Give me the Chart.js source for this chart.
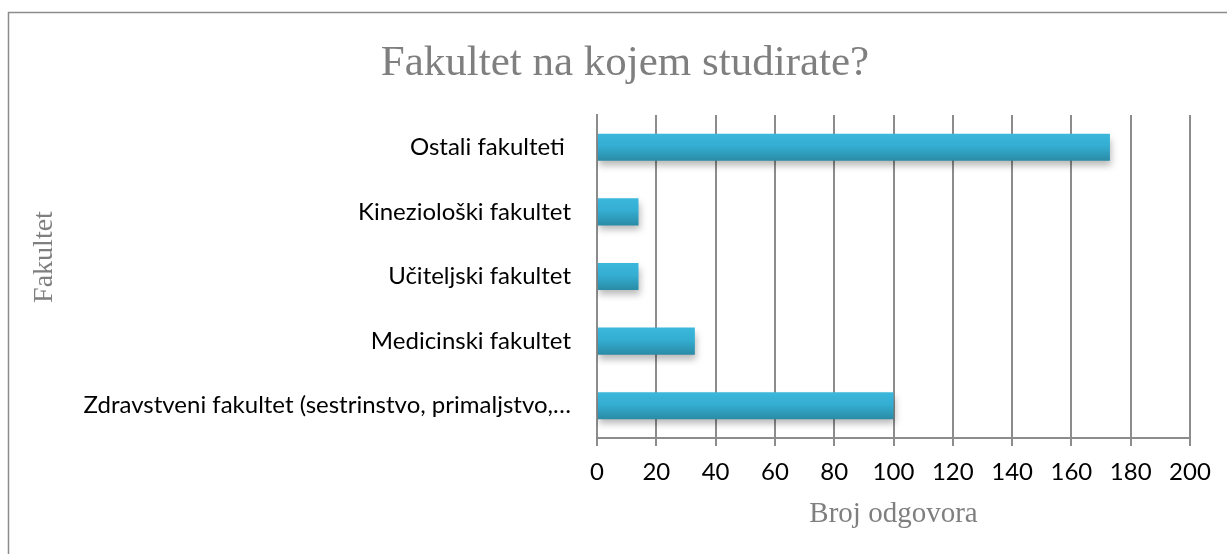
<!DOCTYPE html>
<html>
<head>
<meta charset="utf-8">
<script src="https://cdn.jsdelivr.net/npm/chart.js@4/dist/chart.umd.min.js"></script>
<style>
    html, body { margin: 0; padding: 0; background: #fff; }
    #wrap { position: relative; width: 1227px; height: 554px; }
</style>
</head>
<body>
<div id="wrap"><canvas id="chart" width="1227" height="554"></canvas></div>
<script>
const categories = [
    'Ostali fakulteti ',
    'Kineziološki fakultet',
    'Učiteljski fakultet',
    'Medicinski fakultet',
    'Zdravstveni fakultet (sestrinstvo, primaljstvo,…'
];
const responses = [173, 14, 14, 33, 100];
const xTicks = [0, 20, 40, 60, 80, 100, 120, 140, 160, 180, 200];

const chartTitle = 'Fakultet na kojem studirate?';
const xTitle = 'Broj odgovora';
const yTitle = 'Fakultet';

const GRID = '#8c8c8c';
const LABEL_FONT = 'Lato, "Noto Sans", sans-serif';
const SERIF = '"Liberation Serif", "DejaVu Serif", serif';

// frame round the chart (only left and top edges are in view)
const framePlugin = {
    id: 'frame',
    beforeDraw(chart) {
        const ctx = chart.ctx;
        ctx.save();
        ctx.strokeStyle = '#8c8c8c';
        ctx.lineWidth = 1.5;
        ctx.strokeRect(8.5, 12.5, 1400, 700);
        ctx.restore();
    }
};

// chart title and vertical axis title sit off-centre in the original, so they are drawn here
const titlesPlugin = {
    id: 'titles',
    afterDraw(chart) {
        const ctx = chart.ctx;
        ctx.save();
        ctx.fillStyle = '#7f7f7f';
        ctx.textAlign = 'center';
        ctx.textBaseline = 'alphabetic';
        ctx.font = `43px ${SERIF}`;
        ctx.fillText(chartTitle, 625, 75);

        ctx.translate(52, 257);
        ctx.rotate(-Math.PI / 2);
        ctx.font = `28px ${SERIF}`;
        ctx.fillText(yTitle, 0, 0);
        ctx.restore();
    }
};

// soft drop shadow under the bars
const shadowPlugin = {
    id: 'barShadow',
    beforeDatasetsDraw(chart) {
        const ctx = chart.ctx;
        ctx.save();
        ctx.shadowColor = 'rgba(0,0,0,0.28)';
        ctx.shadowBlur = 7;
        ctx.shadowOffsetX = 1;
        ctx.shadowOffsetY = 5;
    },
    afterDatasetsDraw(chart) {
        chart.ctx.restore();
    }
};

function barGradient(context) {
    const chart = context.chart;
    const yScale = chart.scales.y;
    if (!chart.chartArea || !yScale) return '#33a9cc';
    const center = yScale.getPixelForValue(context.dataIndex);
    const half = 14;
    const g = chart.ctx.createLinearGradient(0, center - half, 0, center + half);
    g.addColorStop(0, '#3bb8dc');
    g.addColorStop(0.45, '#34aed2');
    g.addColorStop(1, '#2a8aa4');
    return g;
}

new Chart(document.getElementById('chart'), {
    type: 'bar',
    data: {
        labels: categories,
        datasets: [{
            label: xTitle,
            data: responses,
            backgroundColor: barGradient,
            borderWidth: 0,
            categoryPercentage: 1,
            barPercentage: 0.42
        }]
    },
    options: {
        indexAxis: 'y',
        responsive: false,
        animation: false,
        layout: { padding: { top: 115, left: 0, right: 37, bottom: 0 } },
        plugins: {
            legend: { display: false },
            tooltip: { enabled: false },
            title: { display: false }
        },
        scales: {
            x: {
                min: 0,
                max: 200,
                afterBuildTicks: scale => { scale.ticks = xTicks.map(v => ({ value: v })); },
                afterFit: scale => { scale.height = 116; },
                grid: { color: GRID, lineWidth: 2, tickLength: 8, tickColor: GRID },
                border: { color: GRID, width: 2 },
                ticks: { color: '#000', padding: 12, font: { family: LABEL_FONT, size: 24 } },
                title: {
                    display: true,
                    text: xTitle,
                    color: '#7f7f7f',
                    font: { family: SERIF, size: 29, weight: 'normal' },
                    padding: { top: 0, bottom: 22 }
                }
            },
            y: {
                afterFit: scale => { scale.width = 597; },
                grid: { display: false, drawTicks: false },
                border: { display: true, color: GRID, width: 2 },
                ticks: { color: '#000', padding: 26, font: { family: LABEL_FONT, size: 24 } }
            }
        }
    },
    plugins: [framePlugin, shadowPlugin, titlesPlugin]
});
</script>
</body>
</html>
